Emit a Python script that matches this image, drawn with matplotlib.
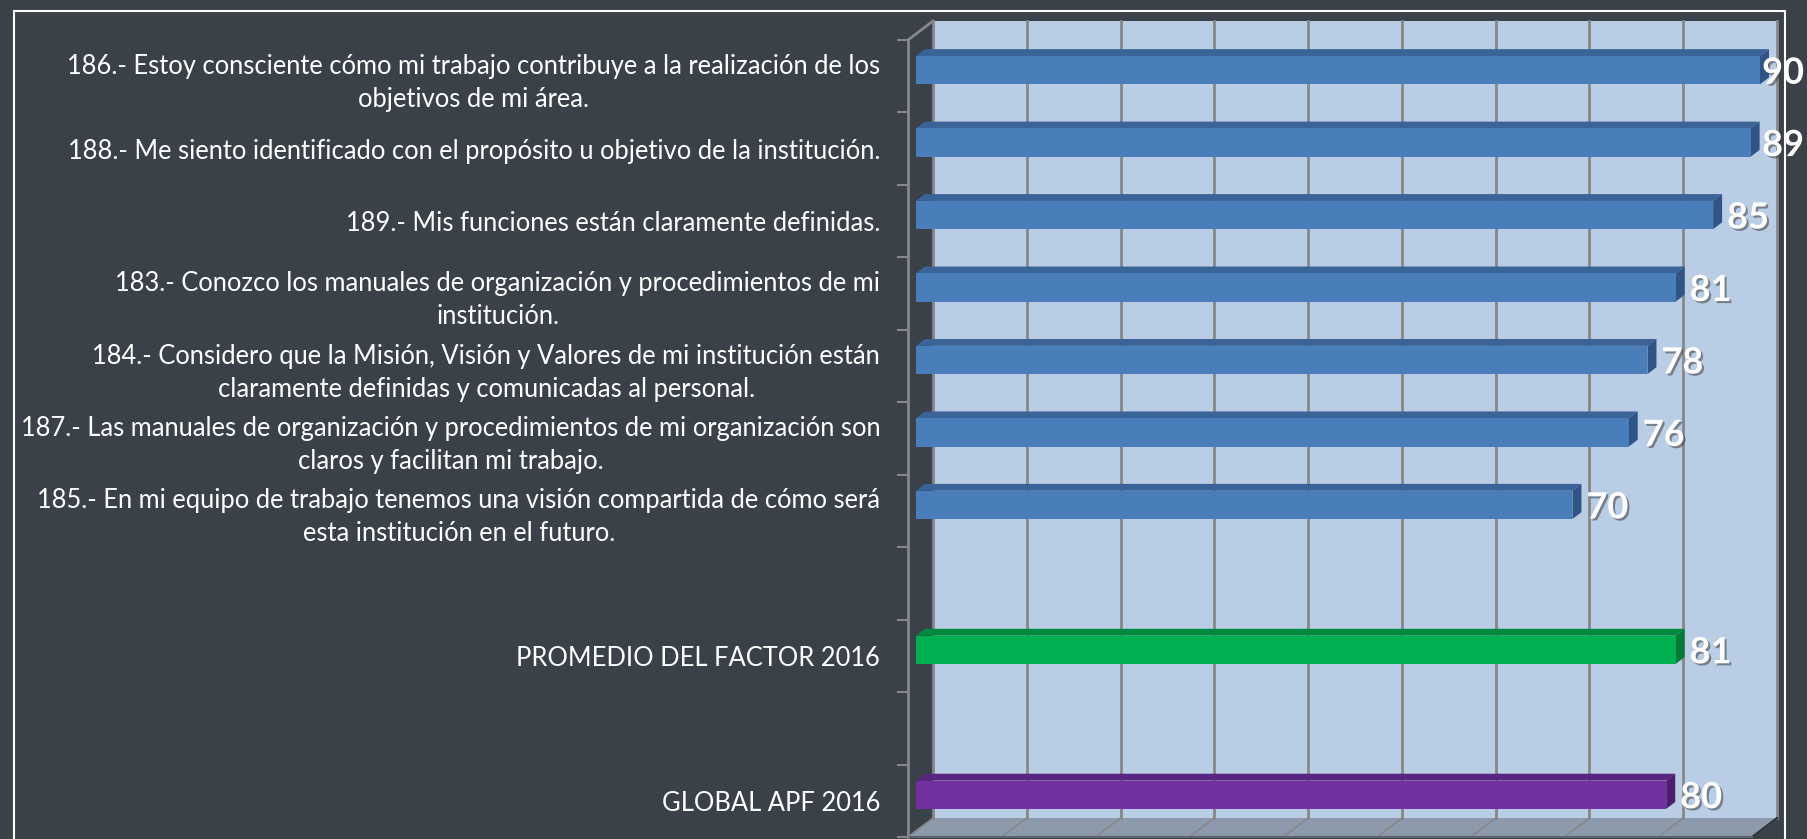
import numpy as np
import matplotlib
matplotlib.use('Agg')
import matplotlib.pyplot as plt
import matplotlib.patches as patches
import matplotlib.transforms as mtransforms
import matplotlib.patheffects as pe

# Data
item_labels = [
    '186.- Estoy consciente cómo mi trabajo contribuye a la realización de los\nobjetivos de mi área.',
    '188.- Me siento identificado con el propósito u objetivo de la institución.',
    '189.- Mis funciones están claramente definidas.',
    '183.- Conozco los manuales de organización y procedimientos de mi\ninstitución.',
    '184.- Considero que la Misión, Visión y Valores de mi institución están\nclaramente definidas y comunicadas al personal.',
    '187.- Las manuales de organización y procedimientos de mi organización son\nclaros y facilitan mi trabajo.',
    '185.- En mi equipo de trabajo tenemos una visión compartida de cómo será\nesta institución en el futuro.',
]
item_values = [90, 89, 85, 81, 78, 76, 70]
promedio_label = 'PROMEDIO DEL FACTOR 2016'
promedio_value = 81
global_label = 'GLOBAL APF 2016'
global_value = 80
x_max = 90
x_ticks = np.arange(0, 91, 10)

# Categories top to bottom (blank slots between groups)
labels = item_labels + ['', promedio_label, '', global_label]
values = item_values + [None, promedio_value, None, global_value]

# Colours
bg = '#3a4149'
wall_c = '#b9cde5'
floor_c = '#8c9aab'
grid_c = '#878787'
blue = ('#4a7ebb', '#3a6397', '#2f5485')      # front, top, side
green = ('#00b050', '#008a3e', '#007a36')
purple = ('#7030a0', '#582580', '#4b1f6d')
bar_cols = [blue] * len(item_values) + [None, green, None, purple]

W, H = 1808, 839
fig = plt.figure(figsize=(W / 100, H / 100), dpi=100)
fig.patch.set_facecolor(bg)

# front plane of the 3D box (pixels)
left, right, top, bottom = 908, 1752, 40, 837
ax = fig.add_axes([left / W, (H - bottom) / H, (right - left) / W, (bottom - top) / H])
n = len(labels)
ax.set_xlim(0, x_max)
ax.set_ylim(n - 0.5, -0.5)
ax.patch.set_visible(False)
for s in ax.spines.values():
    s.set_visible(False)

depth_vec = np.array([1.0, 0.76])
wall_d = 25
bar_front_d, bar_back_d = 8, 17
bar_h = 0.39
ident = mtransforms.IdentityTransform()


def to_disp(x, y, d):
    return ax.transData.transform((x, y)) + d * depth_vec


def poly(pts, **kw):
    p = patches.Polygon(np.array(pts), closed=True, transform=ident, clip_on=False, **kw)
    ax.add_patch(p)
    return p


def line(p0, p1, **kw):
    ax.add_line(plt.Line2D([p0[0], p1[0]], [p0[1], p1[1]], transform=ident, clip_on=False, **kw))


y_top, y_bot = -0.5, n - 0.5

# back wall
poly([to_disp(0, y_top, wall_d), to_disp(x_max, y_top, wall_d),
      to_disp(x_max, y_bot, wall_d), to_disp(0, y_bot, wall_d)],
     facecolor=wall_c, edgecolor='none', zorder=1)
# floor
poly([to_disp(0, y_bot, 0), to_disp(x_max, y_bot, 0),
      to_disp(x_max, y_bot, wall_d), to_disp(0, y_bot, wall_d)],
     facecolor=floor_c, edgecolor='none', zorder=1)

# gridlines on wall and floor
for xv in x_ticks:
    line(to_disp(xv, y_top, wall_d), to_disp(xv, y_bot, wall_d), color=grid_c, lw=2, zorder=2)
    line(to_disp(xv, y_bot, wall_d), to_disp(xv, y_bot, 0), color=grid_c, lw=1.2, zorder=2)
line(to_disp(x_max, y_bot, wall_d), to_disp(x_max, y_bot, 0), color='#2e343b', lw=1.5, zorder=2)

# front vertical axis with depth edge
line(to_disp(0, y_top, 0), to_disp(0, y_bot, 0), color=grid_c, lw=2, zorder=3)
line(to_disp(0, y_top, 0), to_disp(0, y_top, wall_d), color=grid_c, lw=2, zorder=3)
line(to_disp(0, y_bot, 0), to_disp(x_max, y_bot, 0), color='#5c6570', lw=1.5, zorder=3)

# category boundary ticks
for b in np.arange(n + 1) - 0.5:
    p = to_disp(0, b, 0)
    line(p, p - np.array([10, 0]), color=grid_c, lw=1.5, zorder=3)

# bars
renderer = fig.canvas.get_renderer()
shadow = [pe.SimplePatchShadow(offset=(1.5, -1.5), shadow_rgbFace='#404040', alpha=0.55), pe.Normal()]
for i, (v, cols) in enumerate(zip(values, bar_cols)):
    if v is None:
        continue
    front, topc, side = cols
    y0, y1 = i - bar_h / 2, i + bar_h / 2
    poly([to_disp(0, y0, bar_front_d), to_disp(v, y0, bar_front_d),
          to_disp(v, y0, bar_back_d), to_disp(0, y0, bar_back_d)],
         facecolor=topc, edgecolor='none', zorder=4)
    poly([to_disp(v, y0, bar_front_d), to_disp(v, y1, bar_front_d),
          to_disp(v, y1, bar_back_d), to_disp(v, y0, bar_back_d)],
         facecolor=side, edgecolor='none', zorder=4)
    poly([to_disp(0, y0, bar_front_d), to_disp(v, y0, bar_front_d),
          to_disp(v, y1, bar_front_d), to_disp(0, y1, bar_front_d)],
         facecolor=front, edgecolor='none', zorder=5)

    # value label
    lx = to_disp(v, y0, bar_back_d)[0] + 5
    ly = to_disp(v, i, bar_front_d)[1]
    t = ax.text(lx, ly, f'{v}', transform=ident, ha='left', va='center_baseline',
                fontsize=26, fontweight='bold', family='Lato', color='white',
                zorder=6, clip_on=False, path_effects=shadow)
    ext = t.get_window_extent(renderer)
    if ext.x1 > W - 4:
        t.set_x(lx - (ext.x1 - (W - 4)))

# category labels
ax.set_xticks([])
ax.set_yticks(np.arange(n))
ax.set_yticklabels(labels)
ax.tick_params(axis='y', length=0, pad=20, labelcolor='white')
for t in ax.get_yticklabels():
    t.set_family('Lato')
    t.set_fontsize(18.4)
    t.set_multialignment('center')
    t.set_linespacing(1.4)

# outer white frame
fig.add_artist(patches.Rectangle((14 / W, -0.01), (1785 - 14) / W, (H - 11) / H + 0.01,
                                 transform=fig.transFigure, fill=False,
                                 edgecolor='white', lw=1.5))

fig.savefig('out.png', dpi=100, facecolor=bg)
